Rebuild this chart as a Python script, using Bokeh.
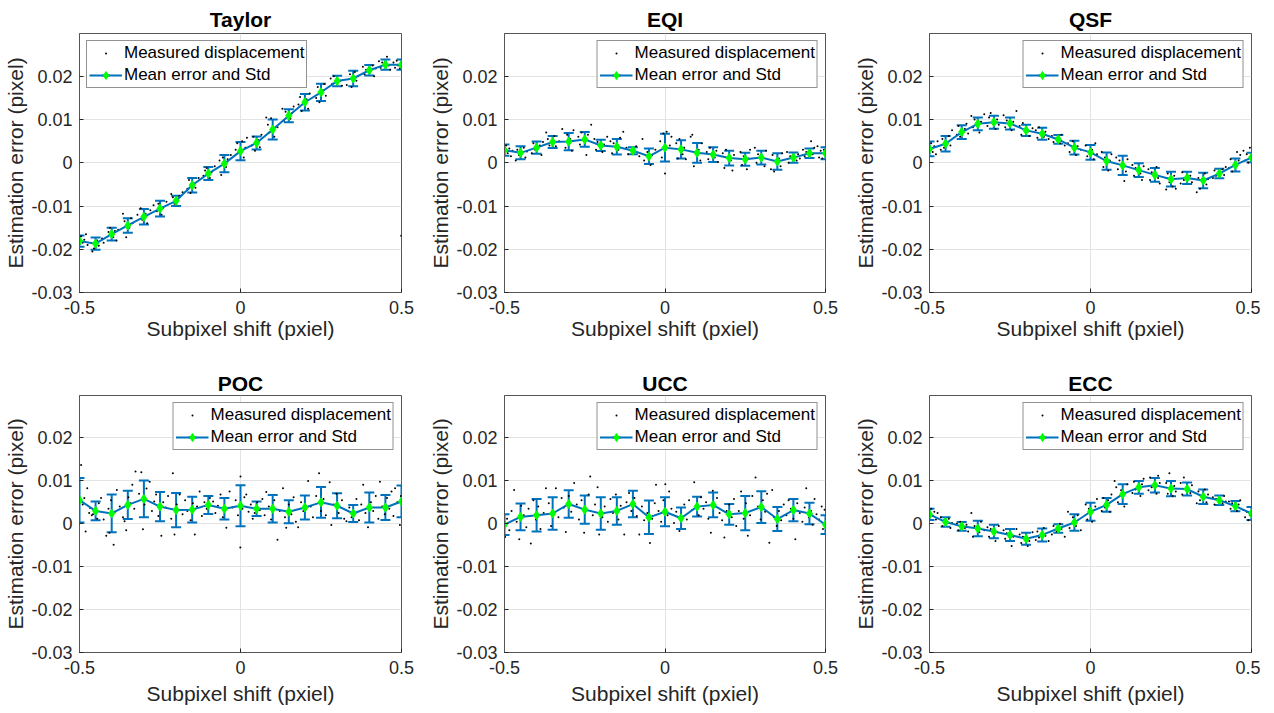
import math
from bokeh.plotting import figure
from bokeh.layouts import column, row
from bokeh.models import (ColumnDataSource, Whisker, TeeHead, FixedTicker, Range1d,
                          Legend, LegendItem, NumeralTickFormatter)
from bokeh.embed import file_html
from bokeh.resources import INLINE

# ---------------- data ----------------
shift = [-0.5, -0.45, -0.4, -0.35, -0.3, -0.25, -0.2, -0.15, -0.1, -0.05, 0.0,
         0.05, 0.1, 0.15, 0.2, 0.25, 0.3, 0.35, 0.4, 0.45, 0.5]
titles = ["Taylor", "EQI", "QSF", "POC", "UCC", "ECC"]
x_ticks = [-0.5, 0.0, 0.5]
y_ticks = [-0.03, -0.02, -0.01, 0.0, 0.01, 0.02]

taylor_mean = [-0.0181, -0.0187, -0.0165, -0.0145, -0.0125, -0.0106, -0.0088, -0.0052, -0.0025, -0.0002, 0.0027,
               0.0046, 0.0077, 0.0109, 0.0140, 0.0163, 0.0189, 0.0195, 0.0214, 0.0227, 0.0227]
taylor_std = [0.0013, 0.0014, 0.0015, 0.0017, 0.0018, 0.0018, 0.0012, 0.0017, 0.0015, 0.0020, 0.0021,
              0.0015, 0.0023, 0.0015, 0.0019, 0.0020, 0.0012, 0.0018, 0.0012, 0.0012, 0.0012]
taylor_dots = [(-0.495, -0.0170), (-0.49, -0.0185), (-0.485, -0.0178), (-0.48, -0.0165), (-0.475, -0.0190),
               (-0.46, -0.0205), (-0.455, -0.0198), (-0.445, -0.0180), (-0.44, -0.0192), (-0.43, -0.0175), (-0.425, -0.0185),
               (-0.41, -0.0160), (-0.405, -0.0150), (-0.395, -0.0172), (-0.39, -0.0158), (-0.385, -0.0180), (-0.38, -0.0155),
               (-0.365, -0.0118), (-0.36, -0.0135), (-0.355, -0.0172), (-0.345, -0.0150), (-0.34, -0.0128), (-0.335, -0.0140),
               (-0.32, -0.0120), (-0.31, -0.0105), (-0.305, -0.0132), (-0.295, -0.0118), (-0.29, -0.0140), (-0.28, -0.0110),
               (-0.27, -0.0098), (-0.26, -0.0112), (-0.255, -0.0095), (-0.245, -0.0120), (-0.24, -0.0104), (-0.23, -0.0090),
               (-0.215, -0.0072), (-0.21, -0.0080), (-0.205, -0.0095), (-0.195, -0.0085), (-0.19, -0.0077), (-0.18, -0.0068),
               (-0.165, -0.0060), (-0.16, -0.0040), (-0.155, -0.0070), (-0.145, -0.0048), (-0.14, -0.0058), (-0.13, -0.0035),
               (-0.115, -0.0030), (-0.11, -0.0018), (-0.105, -0.0012), (-0.095, -0.0035), (-0.09, -0.0022), (-0.08, -0.0008),
               (-0.065, 0.0005), (-0.06, -0.0028), (-0.055, 0.0012), (-0.045, -0.0010), (-0.04, 0.0008), (-0.03, 0.0018),
               (-0.015, 0.0030), (-0.01, 0.0045), (0.005, 0.0050), (0.01, 0.0012), (0.015, 0.0035), (0.02, 0.0058),
               (0.035, 0.0040), (0.04, 0.0060), (0.045, 0.0028), (0.055, 0.0052), (0.06, 0.0036), (0.065, 0.0065),
               (0.08, 0.0105), (0.085, 0.0088), (0.09, 0.0070), (0.095, 0.0103), (0.105, 0.0060), (0.115, 0.0082),
               (0.13, 0.0125), (0.135, 0.0098), (0.14, 0.0118), (0.155, 0.0102), (0.16, 0.0115), (0.165, 0.0130),
               (0.18, 0.0135), (0.185, 0.0152), (0.19, 0.0120), (0.205, 0.0147), (0.21, 0.0125), (0.215, 0.0160),
               (0.235, 0.0150), (0.24, 0.0175), (0.245, 0.0140), (0.255, 0.0168), (0.26, 0.0182), (0.265, 0.0155),
               (0.28, 0.0195), (0.285, 0.0183), (0.29, 0.0200), (0.31, 0.0190), (0.315, 0.0178),
               (0.33, 0.0180), (0.34, 0.0205), (0.345, 0.0175), (0.355, 0.0210), (0.36, 0.0190), (0.365, 0.0200),
               (0.38, 0.0222), (0.385, 0.0205), (0.39, 0.0215), (0.41, 0.0225), (0.415, 0.0200), (0.42, 0.0218),
               (0.43, 0.0235), (0.435, 0.0220), (0.44, 0.0232), (0.455, 0.0245), (0.46, 0.0225), (0.465, 0.0215),
               (0.475, 0.0232), (0.48, 0.0220), (0.485, 0.0236), (0.49, 0.0225), (0.495, 0.0218), (0.499, -0.0169)]

eqi_mean = [0.0029, 0.0023, 0.0035, 0.0048, 0.0049, 0.0054, 0.0040, 0.0037, 0.0028, 0.0015, 0.0035,
            0.0031, 0.0023, 0.0019, 0.0011, 0.0008, 0.0012, 0.0003, 0.0012, 0.0022, 0.0022]
eqi_std = [0.0013, 0.0015, 0.0014, 0.0014, 0.0020, 0.0017, 0.0013, 0.0018, 0.0008, 0.0018, 0.0032,
           0.0021, 0.0023, 0.0017, 0.0017, 0.0015, 0.0016, 0.0019, 0.0012, 0.0011, 0.0014]
eqi_dots = [(-0.495, 0.0040), (-0.49, 0.0022), (-0.485, 0.0033), (-0.48, 0.0015), (-0.475, 0.0028),
            (-0.465, 0.0005), (-0.46, 0.0030), (-0.455, 0.0018), (-0.44, 0.0035), (-0.435, 0.0012), (-0.43, 0.0026),
            (-0.415, 0.0022), (-0.41, 0.0045), (-0.405, 0.0030), (-0.39, 0.0040), (-0.385, 0.0018), (-0.38, 0.0048),
            (-0.37, 0.0070), (-0.365, 0.0055), (-0.36, 0.0040), (-0.345, 0.0062), (-0.34, 0.0038), (-0.33, 0.0050),
            (-0.32, 0.0078), (-0.31, 0.0035), (-0.305, 0.0065), (-0.295, 0.0055), (-0.29, 0.0028), (-0.285, 0.0075),
            (-0.27, 0.0060), (-0.265, 0.0042), (-0.26, 0.0070), (-0.245, 0.0018), (-0.24, 0.0065), (-0.23, 0.0088),
            (-0.22, 0.0055), (-0.215, 0.0030), (-0.21, 0.0048), (-0.195, 0.0025), (-0.19, 0.0042), (-0.18, 0.0060),
            (-0.17, 0.0050), (-0.165, 0.0022), (-0.16, 0.0045), (-0.145, 0.0030), (-0.14, 0.0058), (-0.13, 0.0072),
            (-0.12, 0.0035), (-0.115, 0.0020), (-0.105, 0.0030), (-0.095, 0.0025), (-0.09, 0.0038), (-0.08, 0.0015),
            (-0.07, 0.0055), (-0.065, 0.0005), (-0.055, 0.0025), (-0.045, -0.0005), (-0.04, 0.0018), (-0.03, 0.0030),
            (-0.015, 0.0050), (-0.01, 0.0012), (-0.005, 0.0068), (0.0, -0.0025), (0.005, 0.0072), (0.015, 0.0040), (0.02, 0.0060),
            (0.035, 0.0045), (0.04, 0.0010), (0.045, 0.0055), (0.055, 0.0020), (0.06, 0.0035), (0.065, 0.0008),
            (0.08, 0.0060), (0.085, 0.0065), (0.09, -0.0008), (0.105, 0.0030), (0.11, 0.0005), (0.115, 0.0045),
            (0.13, 0.0025), (0.135, 0.0008), (0.14, 0.0035), (0.155, 0.0012), (0.16, 0.0028), (0.165, 0.0002),
            (0.18, 0.0022), (0.185, -0.0012), (0.19, 0.0030), (0.205, 0.0005), (0.21, -0.0018), (0.215, 0.0018),
            (0.235, 0.0025), (0.24, -0.0005), (0.245, 0.0015), (0.255, -0.0015), (0.26, 0.0010), (0.265, 0.0030),
            (0.28, 0.0035), (0.285, 0.0000), (0.29, 0.0020), (0.31, -0.0008), (0.315, 0.0028),
            (0.33, -0.0015), (0.335, 0.0018), (0.34, -0.0020), (0.355, 0.0010), (0.36, -0.0008), (0.365, 0.0022),
            (0.38, 0.0025), (0.385, 0.0000), (0.39, 0.0015), (0.41, 0.0005), (0.415, 0.0020), (0.42, 0.0010),
            (0.43, 0.0030), (0.435, 0.0015), (0.44, 0.0025), (0.455, 0.0050), (0.46, 0.0020), (0.465, 0.0035),
            (0.475, 0.0038), (0.48, 0.0012), (0.485, 0.0028), (0.49, 0.0010), (0.495, 0.0030)]

qsf_mean = [0.0032, 0.0044, 0.0071, 0.0090, 0.0094, 0.0091, 0.0075, 0.0067, 0.0054, 0.0035, 0.0024,
            0.0004, -0.0006, -0.0017, -0.0028, -0.0038, -0.0035, -0.0041, -0.0025, -0.0005, 0.0012]
qsf_std = [0.0017, 0.0018, 0.0016, 0.0015, 0.0015, 0.0014, 0.0013, 0.0014, 0.0010, 0.0016, 0.0017,
           0.0020, 0.0022, 0.0016, 0.0016, 0.0017, 0.0014, 0.0018, 0.0011, 0.0015, 0.0011]
qsf_dots = [(-0.495, 0.0045), (-0.49, 0.0025), (-0.485, 0.0038), (-0.48, 0.0020), (-0.475, 0.0050),
            (-0.465, 0.0030), (-0.46, 0.0055), (-0.455, 0.0035), (-0.44, 0.0062), (-0.435, 0.0040), (-0.43, 0.0075),
            (-0.415, 0.0065), (-0.41, 0.0085), (-0.405, 0.0060), (-0.39, 0.0078), (-0.385, 0.0090), (-0.38, 0.0068),
            (-0.37, 0.0108), (-0.365, 0.0082), (-0.36, 0.0100), (-0.345, 0.0070), (-0.34, 0.0095), (-0.33, 0.0112),
            (-0.32, 0.0085), (-0.315, 0.0105), (-0.31, 0.0115), (-0.295, 0.0078), (-0.29, 0.0100), (-0.285, 0.0088),
            (-0.27, 0.0110), (-0.265, 0.0082), (-0.26, 0.0098), (-0.245, 0.0075), (-0.24, 0.0095), (-0.23, 0.0120),
            (-0.22, 0.0085), (-0.215, 0.0065), (-0.21, 0.0092), (-0.195, 0.0072), (-0.19, 0.0062), (-0.18, 0.0080),
            (-0.17, 0.0075), (-0.165, 0.0058), (-0.16, 0.0082), (-0.145, 0.0060), (-0.14, 0.0072), (-0.13, 0.0055),
            (-0.12, 0.0062), (-0.115, 0.0048), (-0.105, 0.0058), (-0.095, 0.0045), (-0.09, 0.0065), (-0.08, 0.0040),
            (-0.07, 0.0045), (-0.065, 0.0025), (-0.055, 0.0050), (-0.045, 0.0018), (-0.04, 0.0038), (-0.03, 0.0030),
            (-0.015, 0.0040), (-0.01, 0.0015), (0.005, 0.0030), (0.01, 0.0008), (0.015, 0.0045), (0.02, 0.0020),
            (0.035, 0.0025), (0.04, -0.0010), (0.045, 0.0012), (0.055, -0.0018), (0.06, 0.0005), (0.065, 0.0020),
            (0.08, 0.0012), (0.085, -0.0015), (0.09, 0.0005), (0.105, -0.0042), (0.11, -0.0020), (0.115, 0.0008),
            (0.13, -0.0005), (0.135, -0.0030), (0.14, -0.0012), (0.155, -0.0025), (0.16, -0.0040), (0.165, -0.0008),
            (0.18, -0.0015), (0.185, -0.0040), (0.19, -0.0022), (0.205, -0.0010), (0.21, -0.0035), (0.215, -0.0048),
            (0.235, -0.0062), (0.24, -0.0025), (0.245, -0.0045), (0.255, -0.0055), (0.26, -0.0030), (0.265, -0.0060),
            (0.28, -0.0048), (0.285, -0.0022), (0.29, -0.0040), (0.31, -0.0030), (0.315, -0.0045),
            (0.33, -0.0068), (0.335, -0.0035), (0.34, -0.0060), (0.355, -0.0025), (0.36, -0.0050), (0.365, -0.0038),
            (0.38, -0.0035), (0.385, -0.0018), (0.39, -0.0030), (0.41, -0.0015), (0.415, -0.0028), (0.42, -0.0010),
            (0.43, -0.0012), (0.435, 0.0008), (0.44, -0.0020), (0.455, 0.0025), (0.46, 0.0005), (0.465, 0.0018),
            (0.475, 0.0028), (0.48, 0.0005), (0.485, 0.0020), (0.49, 0.0000), (0.495, 0.0035)]

poc_mean = [0.0055, 0.0030, 0.0024, 0.0044, 0.0058, 0.0040, 0.0032, 0.0033, 0.0044, 0.0035, 0.0042,
            0.0035, 0.0035, 0.0028, 0.0038, 0.0050, 0.0042, 0.0024, 0.0038, 0.0038, 0.0052]
poc_std = [0.0052, 0.0022, 0.0044, 0.0033, 0.0043, 0.0034, 0.0040, 0.0030, 0.0021, 0.0025, 0.0048,
           0.0017, 0.0032, 0.0027, 0.0028, 0.0036, 0.0029, 0.0020, 0.0035, 0.0029, 0.0037]
poc_dots = [(-0.495, 0.0137), (-0.49, 0.0045), (-0.485, 0.0060), (-0.481, -0.0018), (-0.476, 0.0083), (-0.47, 0.0025),
            (-0.467, 0.0037), (-0.462, 0.0020), (-0.458, 0.0022), (-0.455, 0.0030), (-0.445, 0.0012), (-0.44, 0.0048),
            (-0.433, 0.0060), (-0.425, 0.0010), (-0.417, -0.0028), (-0.41, 0.0035), (-0.407, -0.0021), (-0.402, 0.0055),
            (-0.394, -0.0049), (-0.39, 0.0028), (-0.384, 0.0079), (-0.375, 0.0040), (-0.365, 0.0015), (-0.36, 0.0006),
            (-0.355, -0.0015), (-0.348, 0.0062), (-0.342, 0.0048), (-0.336, 0.0091), (-0.33, 0.0035), (-0.326, 0.0122),
            (-0.315, 0.0070), (-0.308, 0.0120), (-0.303, -0.0013), (-0.298, 0.0045), (-0.292, 0.0082), (-0.282, 0.0098),
            (-0.275, 0.0030), (-0.268, 0.0052), (-0.262, 0.0068), (-0.255, 0.0018), (-0.246, -0.0028), (-0.24, 0.0050),
            (-0.232, 0.0038), (-0.225, 0.0065), (-0.215, 0.0012), (-0.21, 0.0118), (-0.205, -0.0025), (-0.198, 0.0045),
            (-0.189, 0.0068), (-0.18, 0.0022), (-0.172, 0.0055), (-0.165, 0.0030), (-0.155, 0.0008), (-0.148, 0.0048),
            (-0.142, -0.0025), (-0.135, 0.0040), (-0.127, 0.0075), (-0.12, 0.0018), (-0.112, 0.0050), (-0.105, 0.0035),
            (-0.095, 0.0060), (-0.085, 0.0052), (-0.078, 0.0025), (-0.07, 0.0042), (-0.062, 0.0068), (-0.055, 0.0015),
            (-0.044, -0.0009), (-0.034, 0.0075), (-0.025, 0.0038), (-0.015, 0.0055), (-0.008, 0.0020), (-0.0005, -0.0055),
            (0.0, 0.0110), (0.006, 0.0035), (0.012, 0.0062), (0.018, 0.0068), (0.025, 0.0028), (0.032, 0.0045),
            (0.038, 0.0012), (0.044, 0.0025), (0.052, 0.0050), (0.06, 0.0032), (0.068, 0.0058), (0.075, 0.0020),
            (0.08, 0.0074), (0.088, 0.0040), (0.095, 0.0010), (0.105, 0.0055), (0.115, -0.0037), (0.122, 0.0030),
            (0.132, 0.0083), (0.138, 0.0015), (0.142, -0.0009), (0.15, 0.0045), (0.158, 0.0022), (0.165, 0.0062),
            (0.172, 0.0005), (0.179, -0.0008), (0.188, 0.0050), (0.195, 0.0030), (0.21, 0.0100), (0.218, 0.0040),
            (0.225, 0.0015), (0.235, 0.0065), (0.244, 0.0118), (0.25, 0.0030), (0.258, 0.0058), (0.265, 0.0020),
            (0.277, 0.0097), (0.282, -0.0003), (0.29, 0.0045), (0.298, 0.0070), (0.305, 0.0025), (0.315, 0.0055),
            (0.322, 0.0012), (0.329, 0.0006), (0.338, 0.0038), (0.345, 0.0015), (0.352, 0.0028), (0.36, 0.0058),
            (0.368, 0.0008), (0.375, 0.0045), (0.381, 0.0091), (0.388, 0.0025), (0.396, -0.0008), (0.405, 0.0050),
            (0.412, 0.0030), (0.42, 0.0065), (0.428, 0.0012), (0.433, 0.0098), (0.44, 0.0040), (0.448, 0.0022),
            (0.455, 0.0060), (0.462, 0.0035), (0.469, 0.0075), (0.475, 0.0018), (0.48, 0.0083), (0.487, 0.0050),
            (0.495, -0.0003), (0.498, 0.0065)]

ucc_mean = [-0.0002, 0.0016, 0.0020, 0.0024, 0.0046, 0.0033, 0.0024, 0.0030, 0.0046, 0.0015, 0.0028,
            0.0013, 0.0040, 0.0044, 0.0022, 0.0025, 0.0039, 0.0011, 0.0032, 0.0024, -0.0002]
ucc_std = [0.0024, 0.0031, 0.0038, 0.0038, 0.0032, 0.0033, 0.0038, 0.0032, 0.0031, 0.0039, 0.0034,
           0.0025, 0.0023, 0.0029, 0.0024, 0.0040, 0.0037, 0.0028, 0.0026, 0.0025, 0.0022]
ucc_dots = [(-0.498, -0.0031), (-0.492, 0.0012), (-0.485, -0.0015), (-0.478, 0.0030), (-0.47, 0.0079), (-0.462, 0.0005),
            (-0.454, -0.0036), (-0.448, 0.0042), (-0.44, 0.0020), (-0.432, -0.0008), (-0.425, 0.0035), (-0.418, -0.0046),
            (-0.41, 0.0055), (-0.402, 0.0010), (-0.395, 0.0040), (-0.388, -0.0012), (-0.378, 0.0025), (-0.371, 0.0083),
            (-0.362, 0.0048), (-0.355, -0.0005), (-0.348, 0.0030), (-0.34, 0.0083), (-0.332, 0.0015), (-0.322, 0.0060),
            (-0.315, 0.0038), (-0.309, -0.0019), (-0.3, 0.0065), (-0.292, 0.0028), (-0.283, 0.0095), (-0.275, 0.0045),
            (-0.268, 0.0010), (-0.26, 0.0055), (-0.252, -0.0021), (-0.245, 0.0032), (-0.238, 0.0068), (-0.233, 0.0110),
            (-0.225, 0.0020), (-0.218, 0.0045), (-0.21, 0.0085), (-0.205, -0.0025), (-0.195, 0.0015), (-0.188, 0.0040),
            (-0.178, 0.0005), (-0.17, 0.0058), (-0.162, 0.0025), (-0.153, 0.0068), (-0.145, 0.0010), (-0.138, 0.0042),
            (-0.127, -0.0025), (-0.12, 0.0050), (-0.112, 0.0072), (-0.105, 0.0030), (-0.095, 0.0060), (-0.088, 0.0018),
            (-0.08, -0.0025), (-0.072, 0.0040), (-0.065, 0.0008), (-0.055, 0.0025), (-0.047, -0.0045), (-0.04, 0.0012),
            (-0.032, 0.0048), (-0.028, 0.0091), (-0.02, 0.0030), (-0.012, 0.0005), (-0.005, 0.0055), (0.001, 0.0092),
            (0.008, 0.0020), (0.013, 0.0075), (0.02, 0.0035), (0.028, 0.0002), (0.035, 0.0028), (0.045, -0.0017),
            (0.052, 0.0015), (0.06, 0.0045), (0.068, 0.0010), (0.075, 0.0055), (0.085, 0.0032), (0.091, 0.0097),
            (0.098, 0.0040), (0.105, 0.0020), (0.112, 0.0062), (0.12, 0.0035), (0.128, 0.0050), (0.135, 0.0012),
            (0.143, -0.0021), (0.149, 0.0077), (0.155, 0.0040), (0.162, 0.0060), (0.17, 0.0025), (0.178, 0.0008),
            (0.185, -0.0032), (0.192, 0.0030), (0.2, 0.0045), (0.208, 0.0015), (0.215, 0.0058), (0.222, -0.0005),
            (0.23, 0.0030), (0.237, 0.0075), (0.245, 0.0012), (0.252, 0.0048), (0.258, -0.0028), (0.265, 0.0020),
            (0.272, 0.0065), (0.282, 0.0108), (0.29, 0.0040), (0.298, 0.0010), (0.305, 0.0055), (0.312, 0.0028),
            (0.318, 0.0070), (0.325, -0.0044), (0.334, 0.0079), (0.34, 0.0015), (0.348, -0.0005), (0.355, 0.0030),
            (0.362, 0.0008), (0.37, 0.0045), (0.378, 0.0020), (0.385, 0.0055), (0.392, 0.0035), (0.4, 0.0012),
            (0.406, -0.0036), (0.412, 0.0048), (0.42, 0.0025), (0.428, 0.0005), (0.435, 0.0038), (0.44, 0.0083),
            (0.448, 0.0015), (0.455, 0.0030), (0.46, -0.0002), (0.466, 0.0058), (0.472, 0.0022), (0.48, 0.0010),
            (0.488, 0.0040), (0.492, -0.0012), (0.497, 0.0033)]

ecc_mean = [0.0022, 0.0004, -0.0006, -0.0011, -0.0018, -0.0026, -0.0035, -0.0026, -0.0011, 0.0003, 0.0028,
            0.0044, 0.0069, 0.0085, 0.0090, 0.0082, 0.0081, 0.0063, 0.0055, 0.0041, 0.0024]
ecc_std = [0.0013, 0.0011, 0.0010, 0.0018, 0.0016, 0.0014, 0.0014, 0.0015, 0.0010, 0.0019, 0.0021,
           0.0016, 0.0023, 0.0015, 0.0017, 0.0018, 0.0015, 0.0017, 0.0011, 0.0012, 0.0015]
ecc_dots = [(-0.495, 0.0035), (-0.49, 0.0018), (-0.485, 0.0028), (-0.48, 0.0010), (-0.475, 0.0025),
            (-0.465, 0.0015), (-0.46, -0.0005), (-0.455, 0.0008), (-0.44, 0.0012), (-0.435, -0.0010), (-0.43, 0.0002),
            (-0.415, 0.0000), (-0.41, -0.0015), (-0.405, 0.0005), (-0.39, -0.0010), (-0.385, -0.0002), (-0.38, -0.0018),
            (-0.37, 0.0025), (-0.365, -0.0030), (-0.36, -0.0005), (-0.345, -0.0020), (-0.34, 0.0005), (-0.33, -0.0015),
            (-0.32, -0.0008), (-0.315, -0.0030), (-0.31, -0.0012), (-0.295, -0.0040), (-0.29, -0.0020), (-0.285, -0.0005),
            (-0.27, -0.0015), (-0.265, -0.0035), (-0.26, -0.0022), (-0.245, -0.0052), (-0.24, -0.0030), (-0.23, -0.0012),
            (-0.22, -0.0025), (-0.215, -0.0045), (-0.21, -0.0030), (-0.195, -0.0052), (-0.19, -0.0040), (-0.18, -0.0020),
            (-0.17, -0.0038), (-0.165, -0.0018), (-0.16, -0.0032), (-0.145, -0.0010), (-0.14, -0.0028), (-0.13, -0.0040),
            (-0.12, -0.0025), (-0.115, -0.0005), (-0.105, -0.0018), (-0.095, 0.0000), (-0.09, -0.0012), (-0.08, -0.0030),
            (-0.07, 0.0028), (-0.065, -0.0010), (-0.055, 0.0015), (-0.045, -0.0005), (-0.04, 0.0020), (-0.03, -0.0015),
            (-0.015, 0.0045), (-0.01, 0.0010), (-0.005, 0.0035), (0.005, 0.0005), (0.015, 0.0040), (0.02, 0.0058),
            (0.035, 0.0030), (0.04, 0.0060), (0.045, 0.0038), (0.055, 0.0055), (0.06, 0.0028), (0.065, 0.0068),
            (0.075, 0.0100), (0.08, 0.0085), (0.085, 0.0050), (0.095, 0.0078), (0.105, 0.0040), (0.115, 0.0092),
            (0.13, 0.0072), (0.135, 0.0098), (0.14, 0.0080), (0.155, 0.0065), (0.16, 0.0092), (0.165, 0.0105),
            (0.18, 0.0078), (0.185, 0.0108), (0.19, 0.0085), (0.205, 0.0070), (0.21, 0.0112), (0.215, 0.0095),
            (0.235, 0.0095), (0.24, 0.0070), (0.245, 0.0118), (0.255, 0.0065), (0.26, 0.0088), (0.265, 0.0075),
            (0.28, 0.0095), (0.285, 0.0068), (0.29, 0.0108), (0.31, 0.0072), (0.315, 0.0090),
            (0.33, 0.0048), (0.335, 0.0075), (0.34, 0.0055), (0.355, 0.0080), (0.36, 0.0050), (0.365, 0.0068),
            (0.38, 0.0062), (0.385, 0.0045), (0.39, 0.0058), (0.41, 0.0048), (0.415, 0.0065), (0.42, 0.0052),
            (0.43, 0.0052), (0.435, 0.0035), (0.44, 0.0048), (0.455, 0.0030), (0.46, 0.0045), (0.465, 0.0055),
            (0.475, 0.0032), (0.48, 0.0015), (0.485, 0.0028), (0.49, 0.0008), (0.495, 0.0020)]

means = [taylor_mean, eqi_mean, qsf_mean, poc_mean, ucc_mean, ecc_mean]
stds = [taylor_std, eqi_std, qsf_std, poc_std, ucc_std, ecc_std]
dots = [taylor_dots, eqi_dots, qsf_dots, poc_dots, ucc_dots, ecc_dots]

# ---------------- style ----------------
FONT = "Liberation Sans"
BLUE = "#0072BD"
GREEN = "#00FF00"
AX = "#262626"
FRAME = "#555555"
GRID = "#e3e3e3"

col_widths = [425, 425, 410]
col_left = [79, 79, 79]
col_right = [24, 25, 9]
row_heights = [368, 342]
row_top = [33, 27]
row_bottom = [76, 58]
row_label_standoff = [0, 5]
row_title_standoff = [5, 2]


def make_panel(i):
    r, c = divmod(i, 3)
    p = figure(width=col_widths[c], height=row_heights[r],
               x_range=Range1d(-0.5, 0.5), y_range=Range1d(-0.03, 0.0299),
               output_backend="svg", toolbar_location=None,
               min_border_left=col_left[c], min_border_right=col_right[c],
               min_border_top=row_top[r], min_border_bottom=row_bottom[r])
    p.background_fill_color = "white"
    p.border_fill_color = "white"
    p.outline_line_color = FRAME
    p.outline_line_width = 1

    p.title.text = titles[i]
    p.title.align = "center"
    p.title.text_font = FONT
    p.title.text_font_size = "21px"
    p.title.text_font_style = "bold"
    p.title.text_color = "black"
    p.title.standoff = row_title_standoff[r]

    for ax in p.xaxis:
        ax.ticker = FixedTicker(ticks=x_ticks)
        ax.formatter = NumeralTickFormatter(format="0.[00]")
        ax.axis_label = "Subpixel shift (pxiel)"
        ax.axis_label_standoff = row_label_standoff[r]
        ax.major_label_standoff = 8
    for ax in p.yaxis:
        ax.ticker = FixedTicker(ticks=y_ticks)
        ax.formatter = NumeralTickFormatter(format="0.[00]")
        ax.axis_label = "Estimation error (pixel)"
        ax.axis_label_standoff = 1
        ax.major_label_standoff = 7
    for ax in list(p.xaxis) + list(p.yaxis):
        ax.major_tick_in = 4
        ax.major_tick_out = 0
        ax.minor_tick_in = 0
        ax.minor_tick_out = 0
        ax.major_tick_line_color = AX
        ax.axis_line_color = FRAME
        ax.major_label_text_font = FONT
        ax.major_label_text_font_size = "18px"
        ax.major_label_text_color = AX
        ax.axis_label_text_font = FONT
        ax.axis_label_text_font_size = "21px"
        ax.axis_label_text_font_style = "normal"
        ax.axis_label_text_color = AX

    p.xgrid.ticker = FixedTicker(ticks=x_ticks)
    p.ygrid.ticker = FixedTicker(ticks=y_ticks)
    p.grid.grid_line_color = GRID
    p.grid.grid_line_width = 1

    dxs = [d[0] for d in dots[i]]
    dys = [d[1] for d in dots[i]]
    r_dots = p.scatter(dxs, dys, marker="dot", size=8, line_color="black", fill_color="black")

    m = means[i]
    s = stds[i]
    src = ColumnDataSource(dict(x=shift, m=m,
                                lo=[a - b for a, b in zip(m, s)],
                                hi=[a + b for a, b in zip(m, s)]))
    wh = Whisker(source=src, base="x", lower="lo", upper="hi", dimension="height",
                 line_color=BLUE, line_width=2, level="underlay",
                 upper_head=TeeHead(size=10, line_color=BLUE, line_width=2),
                 lower_head=TeeHead(size=10, line_color=BLUE, line_width=2))
    p.add_layout(wh)
    r_line = p.line("x", "m", source=src, line_color=BLUE, line_width=2)
    # vertical bar used as the error-bar icon in the legend (zero size in the plot)
    r_bar = p.scatter("x", "m", source=src, marker="dash", angle=math.pi / 2, size=0,
                      line_color=BLUE, line_width=2)
    r_mark = p.scatter("x", "m", source=src, marker="diamond", size=9,
                       fill_color=GREEN, line_color=GREEN)

    legend = Legend(items=[LegendItem(label="Measured displacement", renderers=[r_dots]),
                           LegendItem(label="Mean error and Std", renderers=[r_line, r_bar, r_mark])],
                    location="top_left" if i == 0 else "top_right",
                    margin=7, padding=2, spacing=2, glyph_width=33, glyph_height=20,
                    label_height=20, label_standoff=2,
                    label_text_font=FONT, label_text_font_size="17px", label_text_color="black",
                    border_line_color=AX, border_line_width=1,
                    background_fill_color="white", background_fill_alpha=1.0)
    p.add_layout(legend)
    return p


panels = [make_panel(i) for i in range(6)]
layout = column(row(*panels[:3]), row(*panels[3:]))

open("out.html", "w").write(file_html(layout, INLINE))
